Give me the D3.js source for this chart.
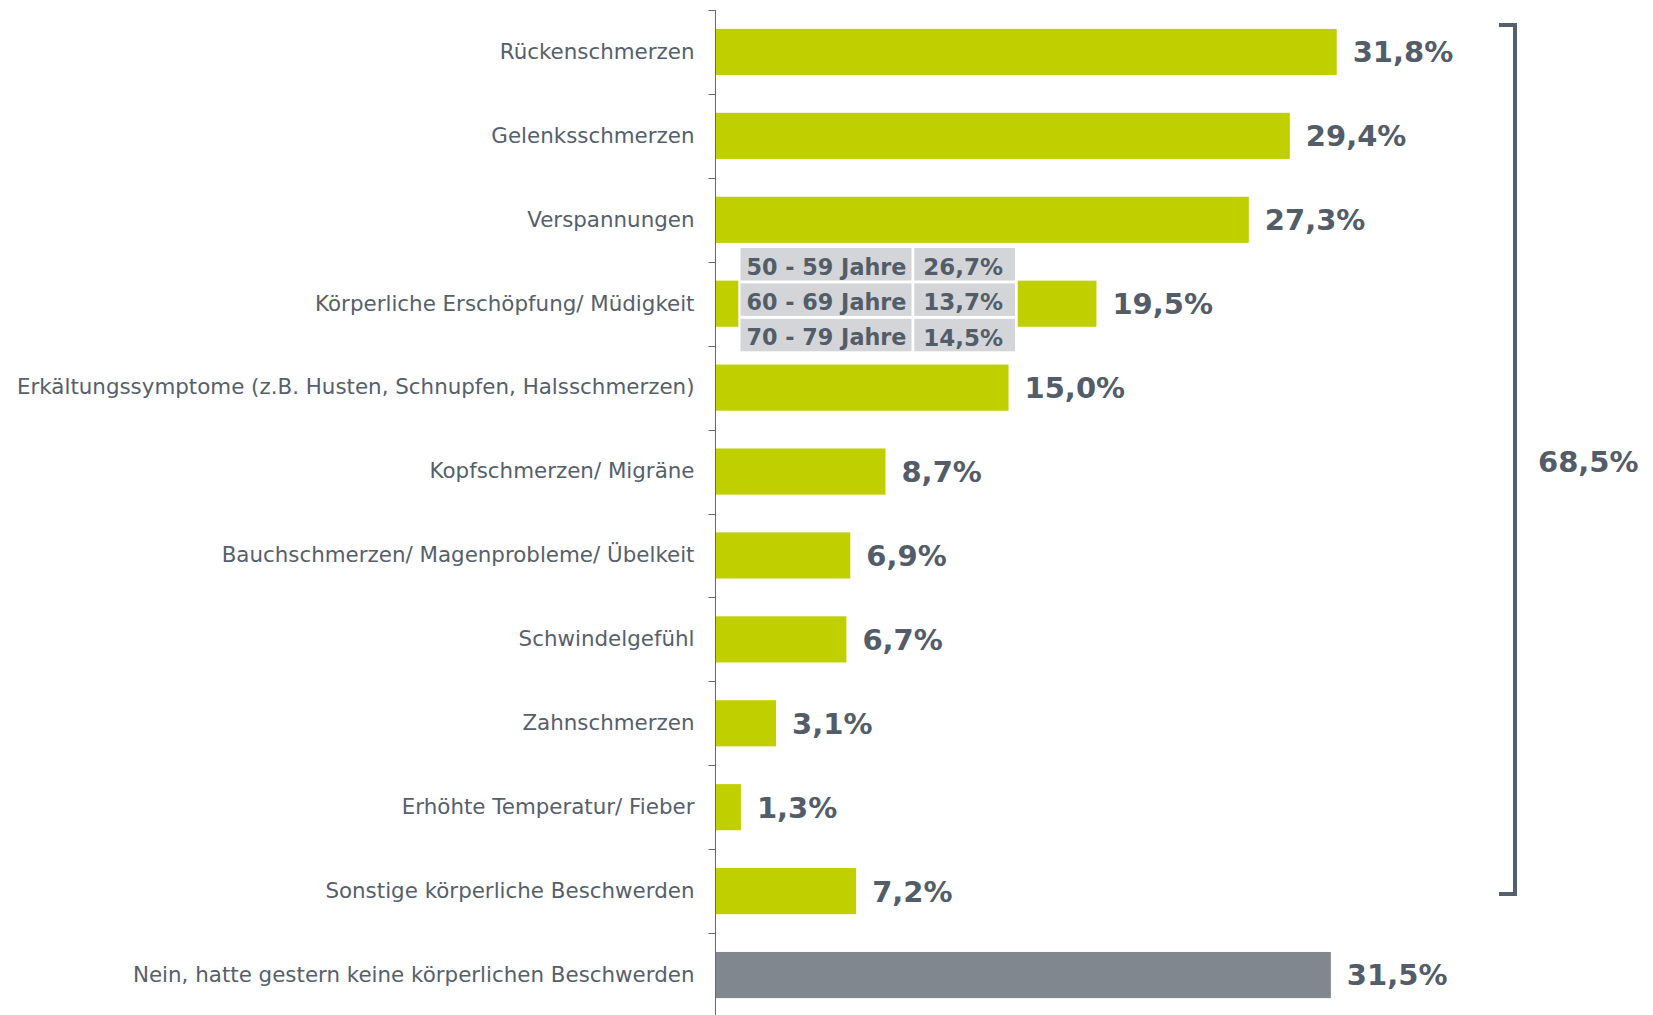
<!DOCTYPE html>
<html>
<head>
<meta charset="utf-8">
<script src="https://cdn.jsdelivr.net/npm/d3@7"></script>
<style>
  html, body { margin: 0; padding: 0; background: #ffffff; }
  svg { display: block; font-family: "DejaVu Sans", Verdana, sans-serif; }
</style>
</head>
<body>
<svg id="chart" width="1653" height="1015"></svg>
<script>
// Symptom categories (top to bottom) and their shares
const categories = [
  "Rückenschmerzen",
  "Gelenksschmerzen",
  "Verspannungen",
  "Körperliche Erschöpfung/ Müdigkeit",
  "Erkältungssymptome (z.B. Husten, Schnupfen, Halsschmerzen)",
  "Kopfschmerzen/ Migräne",
  "Bauchschmerzen/ Magenprobleme/ Übelkeit",
  "Schwindelgefühl",
  "Zahnschmerzen",
  "Erhöhte Temperatur/ Fieber",
  "Sonstige körperliche Beschwerden",
  "Nein, hatte gestern keine körperlichen Beschwerden"
];
const shares = [31.8, 29.4, 27.3, 19.5, 15.0, 8.7, 6.9, 6.7, 3.1, 1.3, 7.2, 31.5];
// last category is the "no complaints" answer
const isNone = [false, false, false, false, false, false, false, false, false, false, false, true];

// Breakdown of exhaustion by age group
const ageGroups = ["50 - 59 Jahre", "60 - 69 Jahre", "70 - 79 Jahre"];
const ageShares = [26.7, 13.7, 14.5];

// Total of respondents with any complaint
const anyComplaint = 68.5;

const fmt = v => v.toFixed(1).replace(".", ",") + "%";

const svg = d3.select("#chart");
const axisX = 715.5;

const x = d3.scaleLinear().domain([0, 31.8]).range([axisX, 1336.7]);
const y = d3.scaleBand().domain(categories).range([10, 1017])
  .paddingInner(0.45).paddingOuter(0.225);

const green = "#bfcf00";
const grey = "#80878f";
const dark = "#535d69";
const labelColor = "#56606b";

// bars
svg.append("g").selectAll("rect")
  .data(categories)
  .join("rect")
  .attr("x", x(0))
  .attr("y", d => y(d))
  .attr("width", (d, i) => x(shares[i]) - x(0))
  .attr("height", y.bandwidth())
  .attr("fill", (d, i) => isNone[i] ? grey : green);

// value labels
svg.append("g").selectAll("text")
  .data(categories)
  .join("text")
  .attr("x", (d, i) => x(shares[i]) + 16)
  .attr("y", d => y(d) + y.bandwidth() / 2)
  .attr("dy", "0.36em")
  .attr("font-size", 29)
  .attr("font-weight", "bold")
  .attr("fill", dark)
  .text((d, i) => fmt(shares[i]));

// category axis: labels at band centres, ticks at band boundaries
const axis = svg.append("g").attr("transform", `translate(${axisX},0)`)
  .call(d3.axisLeft(y).tickSize(0).tickPadding(21));
axis.select(".domain").remove();
axis.selectAll("text")
  .attr("font-size", 21.4)
  .attr("font-family", "DejaVu Sans, Verdana, sans-serif")
  .attr("fill", labelColor);

const step = y.step();
const boundaries = d3.range(categories.length + 1).map(i => y(categories[0]) - step * 0.225 + i * step);
svg.append("g").selectAll("line")
  .data(boundaries)
  .join("line")
  .attr("x1", axisX - 7).attr("x2", axisX)
  .attr("y1", d => Math.round(d) + 0.5).attr("y2", d => Math.round(d) + 0.5)
  .attr("stroke", "#606a75").attr("stroke-width", 1);
svg.append("line")
  .attr("x1", axisX).attr("x2", axisX)
  .attr("y1", 10).attr("y2", 1015)
  .attr("stroke", "#606a75").attr("stroke-width", 1);

// age breakdown table over the exhaustion bar
const rowH = 35.4;
const tableTop = 246.5;
const col1 = 740.5, col1W = 171, col2 = 914.3, col2W = 100.7;
const tbl = svg.append("g");
tbl.append("rect")
  .attr("x", 738.3).attr("y", tableTop - 1)
  .attr("width", 1017.7 - 738.3).attr("height", rowH * 3 + 2)
  .attr("fill", "#ffffff");
const rows = tbl.selectAll("g.row")
  .data(ageGroups)
  .join("g")
  .attr("class", "row")
  .attr("transform", (d, i) => `translate(0,${tableTop + 1.5 + i * rowH})`);
rows.append("rect").attr("x", col1).attr("y", 0).attr("width", col1W).attr("height", 32.5).attr("fill", "#d3d5d8");
rows.append("rect").attr("x", col2).attr("y", 0).attr("width", col2W).attr("height", 32.5).attr("fill", "#d3d5d8");
rows.append("text")
  .attr("x", col1 + 6).attr("y", 18.5).attr("dy", "0.36em")
  .attr("font-size", 22.3).attr("font-weight", "bold").attr("fill", dark)
  .text(d => d);
rows.append("text")
  .attr("x", col2 + 9).attr("y", 18.5).attr("dy", "0.36em")
  .attr("font-size", 23).attr("font-weight", "bold").attr("fill", dark)
  .text((d, i) => fmt(ageShares[i]));

// bracket summarising all complaint categories
const bx = 1515;
const bTop = 25, bBottom = 894;
svg.append("path")
  .attr("d", `M1499,${bTop} H${bx} V${bBottom} H1499`)
  .attr("fill", "none")
  .attr("stroke", "#56606c")
  .attr("stroke-width", 4);
svg.append("text")
  .attr("x", 1538).attr("y", 462).attr("dy", "0.36em")
  .attr("font-size", 29).attr("font-weight", "bold").attr("fill", dark)
  .text(fmt(anyComplaint));
</script>
</body>
</html>
